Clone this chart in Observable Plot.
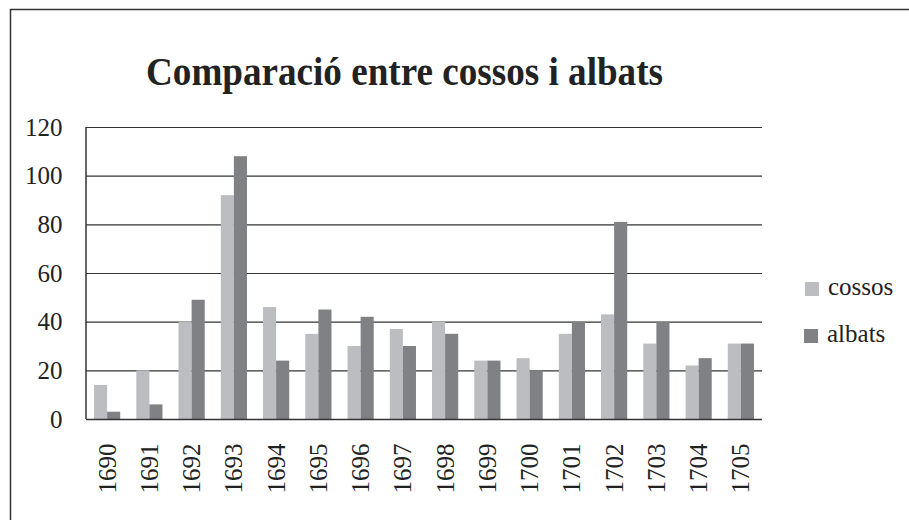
<!DOCTYPE html>
<html>
<head>
<meta charset="utf-8">
<script src="https://cdn.jsdelivr.net/npm/d3@7"></script>
<script src="https://cdn.jsdelivr.net/npm/@observablehq/plot@0.6"></script>
<style>
  html, body { margin: 0; padding: 0; background: #fff; }
  #chart { width: 909px; height: 520px; overflow: hidden; }
</style>
</head>
<body>
<div id="chart"></div>
<script>
const years = ["1690","1691","1692","1693","1694","1695","1696","1697","1698","1699","1700","1701","1702","1703","1704","1705"];
const cossos = [14, 20, 40, 92, 46, 35, 30, 37, 40, 24, 25, 35, 43, 31, 22, 31];
const albats = [3, 6, 49, 108, 24, 45, 42, 30, 35, 24, 20, 40, 81, 40, 25, 31];
const yTicks = [0, 20, 40, 60, 80, 100, 120];
const seriesNames = ["cossos", "albats"];
const titleText = "Comparació entre cossos i albats";

const colors = {cossos: "#bcbdc0", albats: "#808184"};
const data = [];
years.forEach((y, i) => {
  data.push({year: y, series: "cossos", value: cossos[i]});
  data.push({year: y, series: "albats", value: albats[i]});
});

const W = 909, H = 520;
const mL = 86, mR = 147, mT = 127, mB = 101;
const step = (W - mL - mR) / years.length;
const band = step * 0.62;
const half = band / 2;
const serif = "'Liberation Serif', 'Times New Roman', serif";

const chart = Plot.plot({
  width: W,
  height: H,
  marginLeft: mL,
  marginRight: mR,
  marginTop: mT,
  marginBottom: mB,
  style: {fontFamily: serif, fontSize: "25px", color: "#222", background: "#fff"},
  x: {domain: years, paddingInner: 0.38, paddingOuter: 0.19, round: false, tickSize: 0, tickPadding: 24, tickRotate: -90, label: null},
  y: {domain: [0, 120], ticks: yTicks, tickSize: 0, tickPadding: 24, label: null, tickFormat: d => String(d)},
  marks: [
    Plot.ruleY(yTicks.filter(d => d > 0), {stroke: "#333", strokeWidth: 1.2}),
    Plot.barY(data.filter(d => d.series === "cossos"), {x: "year", y: "value", fill: colors.cossos, insetRight: half}),
    Plot.barY(data.filter(d => d.series === "albats"), {x: "year", y: "value", fill: colors.albats, insetLeft: half}),
    Plot.ruleY([0], {stroke: "#333", strokeWidth: 1.5})
  ]
});

const svg = d3.select(chart);
const xr = chart.scale("x").range;
const yr = chart.scale("y").range;

// left axis line
svg.append("line")
  .attr("x1", xr[0]).attr("x2", xr[0])
  .attr("y1", Math.min(...yr)).attr("y2", Math.max(...yr))
  .attr("stroke", "#333").attr("stroke-width", 1.5);

// outer border (top and left)
svg.append("path")
  .attr("d", `M10.5,${H + 2}V9.5H${W + 2}`)
  .attr("fill", "none").attr("stroke", "#333").attr("stroke-width", 1.5);

// title
svg.append("text")
  .attr("x", 404.5).attr("y", 85)
  .attr("text-anchor", "middle")
  .attr("font-family", serif)
  .attr("font-weight", "bold")
  .attr("font-size", 39)
  .attr("fill", "#222")
  .attr("textLength", 517)
  .attr("lengthAdjust", "spacingAndGlyphs")
  .text(titleText);

// legend
const legend = svg.append("g")
  .attr("font-family", serif)
  .attr("text-anchor", "start")
  .attr("font-size", 25).attr("fill", "#222");
const legPos = [{x: 805, y: 282}, {x: 804, y: 329}];
seriesNames.forEach((s, i) => {
  legend.append("rect")
    .attr("x", legPos[i].x).attr("y", legPos[i].y)
    .attr("width", 14).attr("height", 14)
    .attr("fill", colors[s]);
  legend.append("text")
    .attr("x", legPos[i].x + 23).attr("y", legPos[i].y + 13)
    .attr("text-anchor", "start")
    .text(s);
});

document.getElementById("chart").appendChild(chart);
</script>
</body>
</html>
